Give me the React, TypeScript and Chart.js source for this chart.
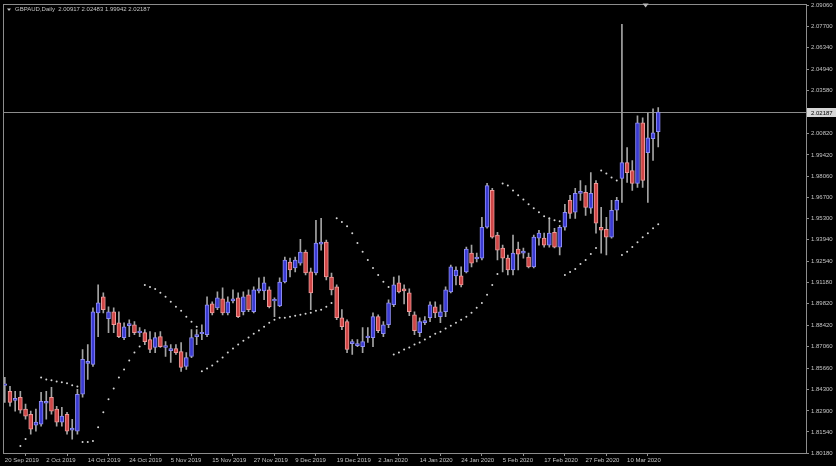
import React, { useEffect, useRef } from "react";
import { Chart, registerables } from "chart.js";

Chart.register(...registerables);

// ---- Data (GBPAUD Daily, 20 Sep 2019 .. 18 Mar 2020) ----
const symbolTitle = "GBPAUD,Daily";

const opens = [
  1.8455, 1.8416, 1.8358, 1.8378, 1.8301, 1.8268, 1.8198, 1.8204, 1.8339, 1.8378,
  1.8301, 1.8217, 1.8268, 1.8166, 1.8159, 1.8397, 1.8596, 1.8589, 1.8923, 1.9026,
  1.8885, 1.8930, 1.8859, 1.8763, 1.8840, 1.8846, 1.8795, 1.8795, 1.8750, 1.8699,
  1.8769, 1.8699, 1.8679, 1.8692, 1.8673, 1.8577, 1.8641, 1.8769, 1.8788, 1.8782,
  1.8981, 1.8955, 1.9013, 1.8923, 1.9000, 1.9020, 1.8930, 1.9039, 1.8930, 1.9064,
  1.9064, 1.9071, 1.9000, 1.8968, 1.9122, 1.9251, 1.9212, 1.9244, 1.9315, 1.9187,
  1.9180, 1.9366, 1.9379, 1.9154, 1.9090, 1.8891, 1.8866, 1.8724, 1.8711, 1.8705,
  1.8763, 1.8763, 1.8898, 1.8788, 1.8846, 1.8975, 1.9116, 1.9077, 1.9052, 1.8910,
  1.8795, 1.8859, 1.8891, 1.8962, 1.8898, 1.8930, 1.9058, 1.9161, 1.9161, 1.9187,
  1.9308, 1.9270, 1.9276, 1.9475, 1.9713, 1.9424, 1.9341, 1.9276, 1.9199, 1.9334,
  1.9308, 1.9283, 1.9219, 1.9405, 1.9405, 1.9360, 1.9443, 1.9347, 1.9475, 1.9649,
  1.9572, 1.9694, 1.9700, 1.9598, 1.9758, 1.9475, 1.9462, 1.9411, 1.9585, 1.9790,
  1.9893, 1.9841, 1.9758, 2.0149, 1.9957, 2.0047, 2.00917,
];

const highs = [
  1.8506, 1.8448, 1.8416, 1.8416, 1.8333, 1.8288, 1.8301, 1.8410, 1.8416, 1.8442,
  1.8320, 1.8313, 1.8281, 1.8236, 1.8429, 1.8686, 1.8718, 1.8955, 1.9103, 1.9052,
  1.8962, 1.8955, 1.8930, 1.8859, 1.8878, 1.8866, 1.8827, 1.8814, 1.8801, 1.8795,
  1.8801, 1.8737, 1.8718, 1.8718, 1.8731, 1.8666, 1.8814, 1.8814, 1.8846, 1.9026,
  1.8994, 1.9058, 1.9084, 1.9026, 1.9071, 1.9052, 1.9058, 1.9071, 1.9090, 1.9148,
  1.9154, 1.9090, 1.9020, 1.9148, 1.9283, 1.9276, 1.9283, 1.9398, 1.9328, 1.9212,
  1.9520, 1.9533, 1.9392, 1.9180, 1.9103, 1.8943, 1.8878, 1.8750, 1.8750, 1.8827,
  1.8827, 1.8923, 1.8910, 1.8866, 1.9007, 1.9154, 1.9161, 1.9103, 1.9077, 1.8930,
  1.8891, 1.8898, 1.8994, 1.8994, 1.8975, 1.9090, 1.9231, 1.9219, 1.9219, 1.9347,
  1.9360, 1.9308, 1.9540, 1.9758, 1.9726, 1.9443, 1.9360, 1.9296, 1.9424, 1.9379,
  1.9341, 1.9308, 1.9424, 1.9456, 1.9437, 1.9533, 1.9469, 1.9488, 1.9623, 1.9681,
  1.9726, 1.9777, 1.9745, 1.9828, 1.9777, 1.9604, 1.9540, 1.9649, 1.9668, 2.0785,
  1.9989, 1.9906, 2.0195, 2.0182, 2.0214, 2.0240, 2.02483,
];

const lows = [
  1.8345, 1.8320, 1.8288, 1.8275, 1.8236, 1.8140, 1.8159, 1.8191, 1.8236, 1.8268,
  1.8191, 1.8191, 1.8140, 1.8108, 1.8140, 1.8378, 1.8493, 1.8577, 1.8769, 1.8923,
  1.8795, 1.8795, 1.8763, 1.8750, 1.8769, 1.8782, 1.8769, 1.8718, 1.8666, 1.8666,
  1.8699, 1.8641, 1.8602, 1.8654, 1.8545, 1.8557, 1.8634, 1.8718, 1.8750, 1.8769,
  1.8910, 1.8943, 1.8910, 1.8910, 1.8987, 1.8891, 1.8910, 1.8930, 1.8923, 1.9052,
  1.9007, 1.8955, 1.8898, 1.8962, 1.9116, 1.9154, 1.9187, 1.9231, 1.9167, 1.8943,
  1.9167, 1.9328, 1.9135, 1.9039, 1.8878, 1.8814, 1.8666, 1.8654, 1.8705, 1.8666,
  1.8731, 1.8705, 1.8795, 1.8769, 1.8827, 1.8962, 1.9052, 1.8981, 1.8904, 1.8782,
  1.8769, 1.8846, 1.8866, 1.8891, 1.8859, 1.8898, 1.9052, 1.9103, 1.9090, 1.9180,
  1.9219, 1.9251, 1.9264, 1.9469, 1.9405, 1.9264, 1.9187, 1.9167, 1.9167, 1.9199,
  1.9276, 1.9212, 1.9212, 1.9360, 1.9347, 1.9347, 1.9341, 1.9296, 1.9456, 1.9533,
  1.9533, 1.9649, 1.9552, 1.9565, 1.9437, 1.9308, 1.9296, 1.9405, 1.9520, 1.9636,
  1.9764, 1.9713, 1.9732, 1.9732, 1.9636, 1.9906, 1.99942,
];

const closes = [
  1.8461, 1.8345, 1.8371, 1.8294, 1.8256, 1.8172, 1.8217, 1.8352, 1.8352, 1.8288,
  1.8217, 1.8256, 1.8159, 1.8179, 1.8397, 1.8622, 1.8609, 1.8930, 1.8987, 1.8943,
  1.8930, 1.8846, 1.8769, 1.8833, 1.8853, 1.8795, 1.8801, 1.8737, 1.8686, 1.8763,
  1.8705, 1.8711, 1.8692, 1.8666, 1.8570, 1.8634, 1.8763, 1.8782, 1.8795, 1.8975,
  1.8923, 1.9020, 1.8923, 1.8994, 1.9013, 1.8898, 1.9026, 1.8943, 1.9071, 1.9077,
  1.9116, 1.8962, 1.9007, 1.9122, 1.9264, 1.9199, 1.9264, 1.9315, 1.9180, 1.9052,
  1.9373, 1.9379, 1.9154, 1.9071, 1.8891, 1.8833, 1.8686, 1.8737, 1.8724, 1.8737,
  1.8769, 1.8898, 1.8808, 1.8846, 1.8987, 1.9103, 1.9058, 1.9064, 1.8930, 1.8808,
  1.8866, 1.8872, 1.8975, 1.8923, 1.8930, 1.9071, 1.9219, 1.9199, 1.9103, 1.9334,
  1.9244, 1.9283, 1.9475, 1.9745, 1.9411, 1.9328, 1.9276, 1.9199, 1.9308, 1.9302,
  1.9321, 1.9219, 1.9411, 1.9437, 1.9360, 1.9437, 1.9347, 1.9475, 1.9572, 1.9565,
  1.9694, 1.9707, 1.9604, 1.9694, 1.9501, 1.9456, 1.9411, 1.9585, 1.9649, 1.9893,
  1.9828, 1.9758, 2.0149, 1.9777, 2.0053, 2.0085, 2.02187,
];

// Parabolic SAR dots (null = not visible)
const sar = [
  null, null, null, 1.8063, 1.8108, null, null, 1.8506, 1.8493, 1.8487,
  1.8480, 1.8474, 1.8468, 1.8455, 1.8448, 1.8089, 1.8089, 1.8095, 1.8185, 1.8281,
  1.8365, 1.8435, 1.8506, 1.8557, 1.8615, 1.8666, 1.8705, 1.9103, 1.9090, 1.9077,
  1.9052, 1.9026, 1.8994, 1.8962, 1.8936, 1.8898, 1.8866, 1.8833, 1.8545, 1.8564,
  1.8583, 1.8609, 1.8634, 1.8666, 1.8692, 1.8718, 1.8743, 1.8763, 1.8788, 1.8808,
  1.8833, 1.8859, 1.8878, 1.8891, 1.8891, 1.8898, 1.8904, 1.8910, 1.8917, 1.8923,
  1.8936, 1.8943, 1.8962, 1.8987, 1.9533, 1.9509, 1.9482, 1.9437, 1.9373, 1.9317,
  1.9264, 1.9212, 1.9167, 1.9124, 1.9090, 1.8654, 1.8666, 1.8686, 1.8699, 1.8718,
  1.8731, 1.8750, 1.8769, 1.8788, 1.8801, 1.8821, 1.8840, 1.8859, 1.8878, 1.8898,
  1.8923, 1.8955, 1.8987, 1.9039, 1.9103, 1.9174, 1.9758, 1.9745, 1.9713, 1.9681,
  1.9655, 1.9623, 1.9598, 1.9572, 1.9546, 1.9533, 1.9520, 1.9514, 1.9167, 1.9187,
  1.9206, 1.9238, 1.9264, 1.9302, 1.9341, 1.9841, 1.9822, 1.9796, 1.9777, 1.9296,
  1.9317, 1.9347, 1.9379, 1.9411, 1.9437, 1.9469, 1.9494,
];

const dateLabels = [
  "20 Sep 2019", "2 Oct 2019", "14 Oct 2019", "24 Oct 2019", "5 Nov 2019",
  "15 Nov 2019", "27 Nov 2019", "9 Dec 2019", "19 Dec 2019", "2 Jan 2020",
  "14 Jan 2020", "24 Jan 2020", "5 Feb 2020", "17 Feb 2020", "27 Feb 2020",
  "10 Mar 2020",
];
const dateLabelBars = [0, 8, 16, 24, 32, 40, 48, 56, 64, 72, 80, 88, 96, 104, 112, 120];

const priceTicks = [
  1.8018, 1.8154, 1.829, 1.843, 1.8566, 1.8706, 1.8842, 1.8982, 1.9118, 1.9254,
  1.9394, 1.953, 1.967, 1.9806, 1.9942, 2.0082, 2.0358, 2.0494, 2.0634, 2.077, 2.0906,
];
const priceMin = 1.8018;
const priceMax = 2.0906;
const barsVisible = 154.65;

const BULL_FILL = "#3a3ad2";
const BULL_EDGE = "#8e8ef2";
const BEAR_FILL = "#cf4646";
const BEAR_EDGE = "#ee9a9a";
const WICK = "#a4a4a4";
const AXIS = "#8c8c8c";
const TEXT = "#c4c4c4";
const FONT = "Liberation Sans";

export default function App() {
  const ref = useRef<HTMLCanvasElement>(null);

  useEffect(() => {
    document.body.style.margin = "0";
    document.body.style.background = "#000";
    const canvas = ref.current;
    if (!canvas) return;
    const n = opens.length;
    const idx = opens.map((_, i) => i);
    const up = (i: number) => closes[i] >= opens[i];

    const bodies = idx.map((i) => ({ x: i, y: [opens[i], closes[i]] }));
    const wicks = idx.map((i) => ({ x: i, y: [lows[i], highs[i]] }));
    const sarPts = idx
      .filter((i) => sar[i] !== null)
      .map((i) => ({ x: i, y: sar[i] as number }));
    const last = closes[n - 1];

    const decor = {
      id: "decor",
      beforeDraw(chart: any) {
        const c = chart.ctx;
        c.save();
        c.fillStyle = "#000";
        c.fillRect(0, 0, chart.width, chart.height);
        c.restore();
      },
      beforeDatasetsDraw(chart: any) {
        const c = chart.ctx;
        const a = chart.chartArea;
        const ys = chart.scales.y;
        const yy = Math.round(ys.getPixelForValue(last)) + 0.5;
        c.save();
        c.strokeStyle = AXIS;
        c.lineWidth = 1;
        c.beginPath();
        c.moveTo(a.left, yy);
        c.lineTo(a.right, yy);
        c.stroke();
        c.restore();
      },
      afterDraw(chart: any) {
        const c = chart.ctx;
        const a = chart.chartArea;
        const ys = chart.scales.y;
        const yy = Math.round(ys.getPixelForValue(last)) + 0.5;
        c.save();
        // frame
        c.strokeStyle = AXIS;
        c.lineWidth = 1;
        c.strokeRect(Math.round(a.left) - 0.5, Math.round(a.top) - 1.5, Math.round(a.right - a.left) + 1, Math.round(a.bottom - a.top) + 2);
        // current price label
        c.fillStyle = "#d6d6d6";
        c.fillRect(a.right + 1, yy - 4.5, 29, 9);
        c.fillStyle = "#000";
        c.font = `6px "${FONT}"`;
        c.textBaseline = "middle";
        c.textAlign = "left";
        c.fillText(last.toFixed(5), a.right + 5, yy + 0.5);
        // header
        c.fillStyle = TEXT;
        c.beginPath();
        c.moveTo(a.left + 3, a.top + 3);
        c.lineTo(a.left + 7, a.top + 3);
        c.lineTo(a.left + 5, a.top + 5.5);
        c.closePath();
        c.fill();
        c.fillStyle = TEXT;
        c.fillText(
          `${symbolTitle}  ${opens[n - 1].toFixed(5)} ${highs[n - 1].toFixed(5)} ${lows[n - 1].toFixed(5)} ${closes[n - 1].toFixed(5)}`,
          a.left + 11,
          a.top + 4
        );
        // chart-shift marker
        const sx = a.left + (a.right - a.left) * 0.8;
        c.fillStyle = "#b8b8b8";
        c.beginPath();
        c.moveTo(sx - 3, a.top - 2);
        c.lineTo(sx + 3, a.top - 2);
        c.lineTo(sx, a.top + 2);
        c.closePath();
        c.fill();
        c.restore();
      },
    };

    const chart = new Chart(canvas, {
      type: "bar",
      data: {
        datasets: [
          {
            type: "line",
            data: sarPts as any,
            showLine: false,
            pointRadius: 1,
            pointBorderWidth: 0,
            pointBackgroundColor: "#d4d4d4",
            pointHoverRadius: 1,
            order: 1,
          } as any,
          {
            data: bodies as any,
            barThickness: 4,
            grouped: false,
            minBarLength: 1.5,
            borderSkipped: false,
            borderWidth: 1,
            backgroundColor: (ctx: any) => (up(ctx.dataIndex) ? BULL_FILL : BEAR_FILL),
            borderColor: (ctx: any) => (up(ctx.dataIndex) ? BULL_EDGE : BEAR_EDGE),
            order: 2,
          } as any,
          {
            data: wicks as any,
            barThickness: 1,
            grouped: false,
            borderWidth: 0,
            backgroundColor: WICK,
            order: 3,
          } as any,
        ],
      },
      options: {
        responsive: false,
        animation: false,
        devicePixelRatio: 1,
        layout: { padding: { left: 4, top: 4, right: 0, bottom: 0 } },
        plugins: { legend: { display: false }, tooltip: { enabled: false } },
        events: [],
        scales: {
          x: {
            type: "linear",
            min: -0.154,
            max: -0.154 + barsVisible,
            offset: false,
            position: "bottom",
            afterFit: (s: any) => {
              s.height = 13;
            },
            afterBuildTicks: (s: any) => {
              s.ticks = dateLabelBars.map((v) => ({ value: v }));
            },
            grid: {
              drawOnChartArea: false,
              drawTicks: true,
              tickLength: 3,
              color: AXIS,
            },
            border: { display: true, color: AXIS },
            ticks: {
              autoSkip: false,
              maxRotation: 0,
              minRotation: 0,
              align: "start",
              padding: 1,
              color: TEXT,
              font: { family: FONT, size: 6 },
              callback: (_v: any, i: number) => dateLabels[i],
            },
          },
          y: {
            type: "linear",
            position: "right",
            min: priceMin,
            max: priceMax,
            afterFit: (s: any) => {
              s.width = 30;
            },
            afterBuildTicks: (s: any) => {
              s.ticks = priceTicks.map((v) => ({ value: v }));
            },
            grid: {
              drawOnChartArea: false,
              drawTicks: true,
              tickLength: 3,
              color: AXIS,
            },
            border: { display: true, color: AXIS },
            ticks: {
              padding: 2,
              color: TEXT,
              font: { family: FONT, size: 6 },
              callback: (v: any) => Number(v).toFixed(5),
            },
          },
        },
      },
      plugins: [decor],
    });

    return () => chart.destroy();
  }, []);

  return (
    <div style={{ width: 836, height: 466, background: "#000" }}>
      <canvas ref={ref} width={836} height={466} style={{ display: "block" }} />
    </div>
  );
}
